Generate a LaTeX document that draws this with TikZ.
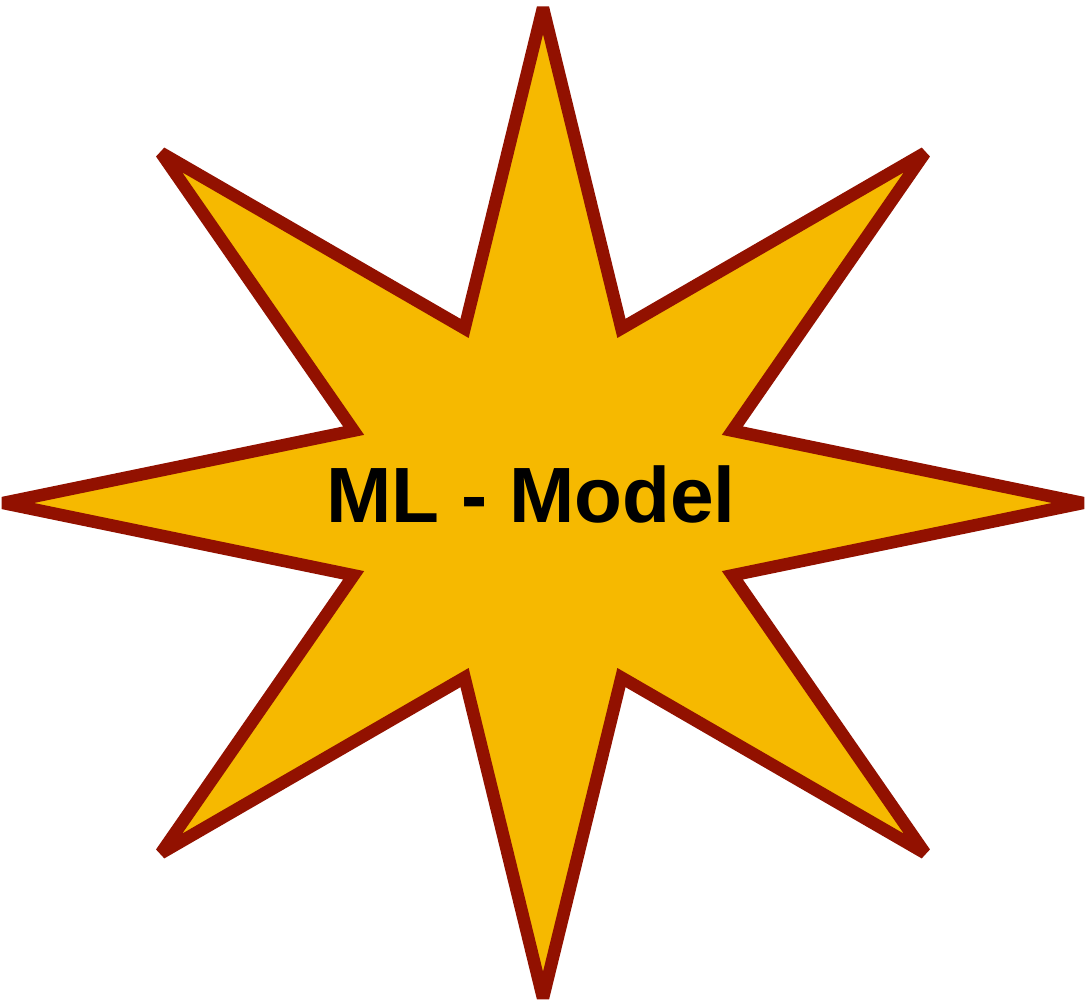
\documentclass[tikz,border=0pt]{standalone}
\usepackage{fontspec}
\setmainfont{Liberation Sans}
\definecolor{burstred}{RGB}{146,17,0}
\definecolor{burstyellow}{RGB}{246,185,0}
\tikzset{
  burst/.style = {draw = burstred, fill = burstyellow, line width = 0.125cm, line join = miter, miter limit = 4},
  burstlabel/.style = {inner sep = 0pt, font = \bfseries\fontsize{22.3}{27}\selectfont}
}

\begin{document}
\begin{tikzpicture} [x = 0.01cm, y = -0.01cm]
	\useasboundingbox (0,0) rectangle (1087,1001);
	
	% eight pointed star
	\draw [burst, shift = {(543,503)}] (0:540 and 495)
		\foreach \a in {0,45,...,270} { -- (\a+22.5:205 and 189) -- (\a+45:540 and 495) }
		-- (337.5:205 and 189) -- cycle;
	
	\node [burstlabel] (model) at (531,494) {ML - Model};
\end{tikzpicture}
\end{document}
